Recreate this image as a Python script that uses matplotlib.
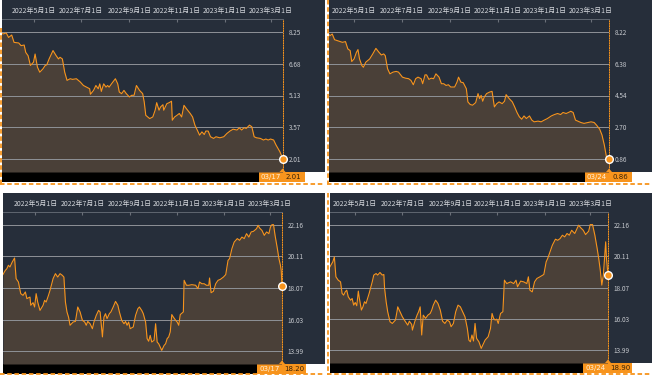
import numpy as np
import matplotlib
matplotlib.use("Agg")
import matplotlib.pyplot as plt
import matplotlib.dates as mdates
from matplotlib.patches import Rectangle, Polygon

plt.rcParams['font.family'] = ['Noto Sans CJK SC', 'DejaVu Sans']

# ---- data (days after the window start, closing values) ----
p1_start = '2022-03-17'
p1_days = [0, 6, 10, 13, 17, 20, 26, 29, 33, 35,
           38, 41, 45, 47, 50, 53, 57, 60, 62, 65,
           70, 74, 77, 79, 82, 85, 88, 92, 95, 100,
           105, 109, 113, 117, 118, 122, 125, 128, 130, 132,
           135, 138, 140, 142, 145, 150, 153, 155, 158, 161,
           164, 168, 171, 174, 177, 181, 185, 187, 189, 194,
           198, 201, 203, 206, 208, 211, 212, 216, 219, 222,
           223, 226, 229, 232, 235, 238, 241, 246, 249, 252,
           255, 258, 261, 264, 266, 269, 272, 276, 279, 284,
           289, 293, 297, 301, 306, 309, 312, 315, 318, 322,
           325, 328, 331, 336, 340, 343, 346, 349, 353, 356,
           359, 361, 365]
p1_vals = [8.25, 8.14, 8.19, 7.97, 8.09, 7.73, 7.70, 7.57, 7.60, 7.24,
           7.08, 6.60, 6.76, 7.16, 6.52, 6.27, 6.43, 6.60, 6.63, 6.92,
           7.33, 7.08, 6.92, 7.00, 6.92, 6.27, 5.87, 5.95, 5.92, 5.95,
           5.79, 5.62, 5.54, 5.46, 5.19, 5.38, 5.62, 5.46, 5.70, 5.33,
           5.70, 5.54, 5.62, 5.54, 5.70, 5.95, 5.70, 5.30, 5.22, 5.38,
           5.22, 5.06, 5.14, 5.14, 5.62, 5.38, 5.22, 4.81, 4.16, 4.00,
           4.08, 4.41, 4.78, 4.41, 4.57, 4.68, 4.41, 4.73, 4.78, 4.85,
           3.92, 4.08, 4.16, 4.25, 4.08, 4.65, 4.49, 4.25, 4.08, 3.68,
           3.44, 3.19, 3.35, 3.22, 3.39, 3.39, 3.11, 3.03, 3.11, 3.06,
           3.11, 3.27, 3.39, 3.48, 3.44, 3.55, 3.44, 3.55, 3.52, 3.68,
           3.60, 3.11, 3.06, 3.03, 2.95, 3.00, 2.95, 3.00, 2.95, 2.71,
           2.51, 2.38, 2.01]
p1_ticks = [2.01, 3.57, 5.13, 6.68, 8.25]

p2_start = '2022-03-24'
p2_days = [0, 4, 7, 10, 13, 17, 23, 27, 30, 33,
           35, 38, 41, 43, 45, 48, 50, 53, 58, 62,
           66, 70, 73, 76, 78, 81, 84, 88, 92, 95,
           100, 104, 108, 111, 114, 117, 120, 124, 126, 129,
           131, 134, 137, 140, 143, 147, 150, 153, 156, 159,
           162, 167, 170, 172, 175, 178, 182, 184, 187, 190,
           194, 197, 199, 201, 203, 205, 208, 212, 215, 218,
           221, 224, 228, 231, 233, 237, 241, 244, 247, 250,
           253, 256, 259, 263, 266, 269, 274, 278, 282, 286,
           291, 295, 299, 303, 306, 310, 313, 316, 319, 322,
           325, 329, 333, 338, 342, 346, 349, 353, 356, 359,
           362, 365]
p2_vals = [8.22, 8.18, 7.99, 8.09, 7.76, 7.70, 7.61, 7.65, 7.23, 7.13,
           6.50, 6.65, 7.03, 7.19, 6.65, 6.27, 6.17, 6.46, 6.65, 6.94,
           7.26, 7.03, 6.88, 6.94, 6.84, 6.08, 5.79, 5.89, 5.93, 5.89,
           5.60, 5.54, 5.51, 5.41, 5.16, 5.51, 5.60, 5.51, 5.22, 5.73,
           5.73, 5.47, 5.54, 5.51, 5.79, 5.60, 5.22, 5.22, 5.12, 5.16,
           5.03, 5.03, 5.31, 5.60, 5.31, 5.28, 4.93, 4.17, 4.02, 3.98,
           4.13, 4.65, 4.36, 4.55, 4.21, 4.45, 4.65, 4.74, 4.78, 3.88,
           4.07, 4.17, 4.07, 4.21, 4.59, 4.36, 4.17, 3.88, 3.56, 3.31,
           3.17, 3.36, 3.21, 3.36, 3.12, 3.02, 3.06, 3.02, 3.12, 3.21,
           3.36, 3.44, 3.50, 3.44, 3.56, 3.50, 3.56, 3.63, 3.56, 3.12,
           3.06, 2.98, 2.93, 2.98, 3.02, 2.98, 2.83, 2.60, 2.26, 1.68,
           0.92, 0.86]
p2_ticks = [0.86, 2.70, 4.54, 6.38, 8.22]

p3_start = '2022-03-17'
p3_days = [3, 6, 8, 10, 12, 15, 18, 20, 23, 26,
           29, 32, 34, 38, 39, 42, 44, 46, 48, 51,
           55, 57, 59, 62, 64, 68, 71, 74, 77, 80,
           82, 84, 86, 88, 90, 94, 97, 100, 103, 106,
           109, 111, 113, 116, 119, 121, 124, 127, 129, 132,
           134, 136, 138, 141, 143, 146, 149, 152, 154, 157,
           160, 162, 164, 166, 168, 172, 175, 178, 180, 183,
           185, 188, 190, 192, 194, 196, 199, 201, 203, 205,
           207, 209, 212, 214, 216, 218, 220, 222, 224, 227,
           229, 231, 233, 237, 238, 241, 244, 248, 253, 256,
           258, 261, 264, 267, 270, 271, 273, 276, 279, 282,
           285, 289, 292, 295, 297, 300, 303, 307, 310, 313,
           316, 319, 322, 325, 328, 332, 334, 336, 339, 342,
           345, 348, 350, 352, 354, 356, 359, 361, 363, 364,
           365]
p3_vals = [18.95, 19.21, 19.32, 19.54, 19.43, 19.75, 20.01, 18.68, 18.46, 17.71,
           17.60, 17.82, 17.39, 17.49, 16.96, 17.13, 16.85, 17.71, 17.17, 16.63,
           16.96, 17.28, 17.17, 17.60, 17.92, 18.68, 19.00, 18.78, 19.00, 18.89,
           18.78, 17.17, 16.53, 16.20, 15.67, 15.88, 15.92, 16.85, 16.53, 15.99,
           15.88, 15.67, 15.92, 15.77, 15.45, 15.88, 16.31, 16.63, 16.53, 14.92,
           16.20, 16.42, 16.10, 16.42, 16.53, 16.85, 17.21, 16.96, 16.53, 15.99,
           15.77, 15.92, 15.67, 15.88, 15.45, 15.56, 16.31, 16.74, 16.85, 16.63,
           16.42, 15.88, 14.81, 14.64, 15.02, 14.59, 14.70, 15.77, 14.59, 14.48,
           14.27, 14.05, 14.37, 14.48, 14.81, 14.92, 15.24, 16.36, 16.20, 15.99,
           15.88, 15.67, 16.36, 16.53, 18.57, 18.25, 18.25, 18.29, 18.25, 18.03,
           18.46, 18.35, 18.35, 18.25, 18.25, 18.72, 17.77, 17.86, 18.35, 18.57,
           18.63, 18.78, 18.94, 19.86, 19.97, 20.61, 21.04, 21.26, 21.15, 21.36,
           21.26, 21.58, 21.36, 21.69, 21.73, 21.90, 22.12, 21.94, 21.79, 21.47,
           21.69, 21.58, 22.01, 22.16, 22.16, 21.47, 20.61, 19.97, 19.54, 19.21,
           18.20]
p3_ticks = [13.99, 16.03, 18.07, 20.11, 22.16]

p4_start = '2022-03-24'
p4_days = [4, 7, 9, 11, 13, 16, 19, 21, 23, 25,
           27, 29, 32, 34, 36, 38, 40, 42, 43, 46,
           48, 50, 52, 54, 56, 60, 62, 65, 67, 70,
           73, 75, 76, 78, 80, 83, 86, 90, 92, 93,
           96, 99, 103, 106, 108, 111, 112, 115, 118, 120,
           122, 124, 126, 129, 132, 135, 137, 139, 142, 145,
           148, 151, 154, 157, 160, 162, 165, 168, 171, 174,
           177, 180, 183, 185, 187, 189, 191, 193, 195, 198,
           201, 204, 206, 210, 213, 215, 217, 219, 221, 223,
           226, 229, 231, 234, 239, 243, 246, 248, 252, 256,
           260, 262, 264, 267, 270, 273, 277, 282, 285, 287,
           290, 293, 297, 300, 303, 306, 309, 312, 315, 318,
           322, 325, 327, 330, 333, 336, 340, 342, 345, 348,
           351, 353, 355, 357, 359, 362, 363, 365]
p4_vals = [19.31, 19.57, 19.74, 20.06, 18.77, 18.55, 18.44, 17.69, 17.58, 17.79,
           17.90, 17.47, 17.25, 17.36, 16.93, 17.10, 16.89, 17.84, 17.47, 16.61,
           16.82, 17.15, 17.04, 17.36, 17.69, 18.44, 18.88, 18.98, 18.88, 19.05,
           18.88, 18.92, 18.01, 17.15, 16.50, 15.85, 15.74, 15.96, 16.50, 16.82,
           16.50, 16.17, 15.85, 15.63, 15.89, 15.68, 15.31, 15.85, 16.28, 16.50,
           16.82, 14.99, 16.28, 16.07, 16.28, 16.39, 16.61, 16.93, 17.25, 17.04,
           16.61, 15.89, 15.74, 15.96, 15.85, 15.53, 15.74, 16.50, 16.93, 16.82,
           16.50, 16.17, 15.42, 14.66, 14.55, 14.99, 14.60, 15.74, 14.77, 14.55,
           14.12, 14.44, 14.66, 14.88, 15.42, 16.39, 16.07, 15.96, 16.02, 15.74,
           16.39, 16.50, 18.55, 18.33, 18.44, 18.33, 18.55, 18.12, 18.49, 18.44,
           18.33, 18.77, 17.90, 17.79, 18.44, 18.66, 18.77, 18.92, 19.74, 19.96,
           20.39, 20.82, 21.21, 21.14, 21.25, 21.47, 21.36, 21.58, 21.47, 21.79,
           21.58, 21.90, 22.12, 21.94, 21.79, 21.51, 21.73, 22.16, 22.16, 21.47,
           20.60, 19.96, 19.20, 18.23, 18.88, 21.04, 19.96, 18.90]
p4_ticks = [13.99, 16.03, 18.07, 20.11, 22.16]

date_ticks = ['2022-05-01', '2022-07-01', '2022-09-01', '2022-11-01', '2023-01-01', '2023-03-01']
date_labels = ['2022年5月1日', '2022年7月1日', '2022年9月1日', '2022年11月1日', '2023年1月1日', '2023年3月1日']

# ---- layout (pixels) ----
W, H = 652, 375
BG = '#262e3a'
FILL = '#4a4038'
ORANGE = '#f7941d'
GRID = '#8f9297'

fig = plt.figure(figsize=(W / 100, H / 100), dpi=100)
base = fig.add_axes([0, 0, 1, 1], zorder=0)
base.set_xlim(0, W)
base.set_ylim(H, 0)
base.axis('off')
top = fig.add_axes([0, 0, 1, 1], zorder=10)
top.set_xlim(0, W)
top.set_ylim(H, 0)
top.axis('off')
top.patch.set_alpha(0)


def frac(x0, y0, x1, y1):
    return [x0 / W, 1 - y1 / H, (x1 - x0) / W, (y1 - y0) / H]


def draw_panel(lay, start, days, vals, yticks):
    px0, py0, px1 = lay['panel']
    ax0, ay0, ax1, ay1 = lay['plot']
    b0, b1, b2 = lay['boxes']
    bar = lay['bar']

    # panel background, black strip, orange labels
    base.add_patch(Rectangle((px0, py0), px1 - px0, ay1 - py0, color=BG, lw=0))
    base.add_patch(Rectangle((px0, ay1), b0 - px0, bar, color='black', lw=0))
    base.add_patch(Rectangle((b0, ay1), b2 - b0, bar, color=ORANGE, lw=0))

    dates = np.datetime64(start) + np.array(days).astype('timedelta64[D]')
    end = np.datetime64(start) + np.timedelta64(365, 'D')
    x = mdates.date2num(dates)
    xe = mdates.date2num(end)

    base.text((b0 + b1) / 2, ay1 + bar / 2, str(end)[5:].replace('-', '/'),
              ha='center', va='center', fontsize=5, color='#fff1dc', family='DejaVu Sans')
    base.text((b1 + b2) / 2, ay1 + bar / 2, f'{vals[-1]:.2f}',
              ha='center', va='center', fontsize=5, color='#3a2408', family='DejaVu Sans')

    ax = fig.add_axes(frac(ax0, ay0, ax1, ay1), zorder=5)
    ax.patch.set_alpha(0)
    r = yticks[-1] - yticks[0]
    lo, hi = yticks[0] - 0.1 * r, yticks[-1] + 0.1 * r
    ax.set_ylim(lo, hi)
    ax.set_xlim(xe - (ax1 - ax0) / lay['ppd'], xe)

    ax.fill_between(x, vals, lo, color=FILL, lw=0, zorder=1)
    ax.plot(x, vals, color=ORANGE, lw=0.8, zorder=3)
    ax.plot([x[-1]], [vals[-1]], 'o', ms=5.5, mfc=ORANGE, mec='white', mew=1.0,
            clip_on=False, zorder=6)

    ax.set_yticks(yticks)
    ax.set_yticklabels([f'{v:.2f}' for v in yticks])
    ax.yaxis.tick_right()
    ax.tick_params(axis='y', length=0, pad=4, labelsize=4.6, labelcolor='#c6c9ce')
    ax.grid(axis='y', color=GRID, lw=0.7, zorder=2)
    ax.set_axisbelow(False)

    ax.set_xticks(mdates.date2num(np.array(date_ticks, dtype='datetime64[D]')))
    ax.set_xticklabels(date_labels)
    ax.xaxis.tick_top()
    ax.tick_params(axis='x', direction='in', length=2, color='#6b7079', pad=3,
                   labelsize=5, labelcolor='#d2d5da')

    for s in ['left', 'bottom']:
        ax.spines[s].set_visible(False)
    ax.spines['top'].set_color('#5f6670')
    ax.spines['top'].set_linewidth(0.7)
    ax.spines['right'].set_color(ORANGE)
    ax.spines['right'].set_linewidth(0.7)
    ax.spines['right'].set_linestyle((0, (1, 1.5)))

    # small pointer above the label box
    top.add_patch(Polygon([(b1 - 3, ay1), (b1 + 3, ay1), (b1, ay1 - 3.5)], color=ORANGE, lw=0))


L1 = dict(panel=(2, 0, 325), plot=(2, 19, 283, 172), ppd=0.7796, boxes=(259, 282.5, 305), bar=10)
L2 = dict(panel=(329, 0, 652), plot=(329, 19, 609, 172), ppd=0.7796, boxes=(585, 609, 632), bar=10)
L3 = dict(panel=(3, 193, 325), plot=(3, 212, 282, 364), ppd=0.7707, boxes=(257, 282, 306), bar=9.5)
L4 = dict(panel=(330, 193, 652), plot=(330, 212, 608, 363), ppd=0.773, boxes=(583, 608, 632), bar=9.5)

draw_panel(L1, p1_start, p1_days, p1_vals, p1_ticks)
draw_panel(L2, p2_start, p2_days, p2_vals, p2_ticks)
draw_panel(L3, p3_start, p3_days, p3_vals, p3_ticks)
draw_panel(L4, p4_start, p4_days, p4_vals, p4_ticks)

# dashed selection borders
dash = dict(color=ORANGE, lw=1.3, linestyle=(0, (2.5, 1.5)))
top.plot([0, 325], [183.5, 183.5], **dash)
top.plot([1, 1], [28, 183.5], **dash)
top.plot([327, 652], [183.5, 183.5], **dash)
top.plot([327.5, 327.5], [0, 183.5], **dash)
top.plot([0, 325], [374.3, 374.3], **dash)
top.plot([327.5, 327.5], [193, 375], **dash)
top.plot([327, 652], [374.3, 374.3], **dash)

fig.savefig('out.png', dpi=100)
